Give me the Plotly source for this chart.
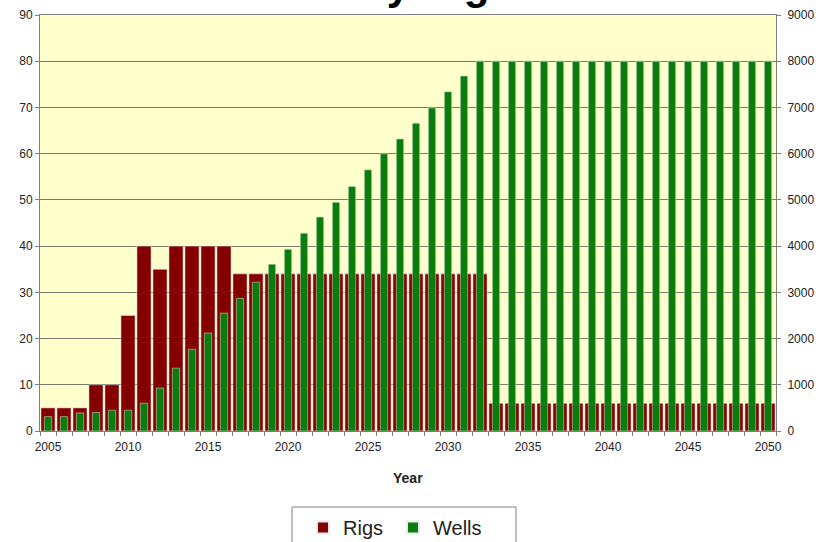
import plotly.graph_objects as go

years = list(range(2005, 2051))
rigs = [5, 5, 5, 10, 10, 25, 40, 35, 40, 40, 40, 40, 34, 34] + [34] * 14 + [6] * 18
wells = [310, 310, 390, 400, 450, 450, 600, 930, 1360, 1770, 2120, 2550, 2870, 3220,
         3610, 3930, 4280, 4630, 4950, 5290, 5650, 6000, 6320, 6660, 6990, 7340, 7680, 8000] + [8000] * 18
xticks = list(range(2005, 2051, 5))

FONT = "Liberation Sans, Arial, sans-serif"
H = 542
PT, PB, PL, PR = 15, 431, 40, 776
PH = PB - PT
PW = PR - PL

fig = go.Figure()
fig.add_trace(go.Bar(x=years, y=rigs, name="Rigs", marker_color="#850000",
                     width=0.88, yaxis="y"))
fig.add_trace(go.Bar(x=years, y=wells, name="Wells", marker_color="#0a7d0a",
                     width=0.46, yaxis="y2"))

fig.update_layout(
    width=829, height=H,
    margin=dict(l=PL, r=829 - PR, t=PT, b=H - PB, autoexpand=False),
    paper_bgcolor="white", plot_bgcolor="#FFFFCC",
    barmode="overlay",
    font=dict(family=FONT, color="#222222", size=12),
    showlegend=True,
    legend=dict(orientation="h", xref="container", yref="container",
                x=303 / 829, y=1 - 508 / H, xanchor="left", yanchor="top",
                borderwidth=0, bgcolor="rgba(0,0,0,0)",
                font=dict(size=20, color="#222222"), entrywidth=45,
                itemsizing="constant"),
    xaxis=dict(range=[2004.5, 2050.5], tickvals=xticks, ticks="", showgrid=False,
               showline=True, linecolor="#808080", linewidth=1, mirror=True,
               tickfont=dict(size=12), zeroline=False, ticklabelstandoff=5,
               minor=dict(tickvals=[y - 0.5 for y in years] + [2050.5], ticks="outside",
                          ticklen=4, tickcolor="#808080", showgrid=False)),
    yaxis=dict(range=[0, 90], dtick=10, showgrid=True, gridcolor="#7a7a6a", gridwidth=1,
               ticks="outside", ticklen=4, tickcolor="#808080", showline=True,
               linecolor="#808080", zeroline=False, tickfont=dict(size=12)),
    yaxis2=dict(range=[0, 9000], dtick=1000, overlaying="y", side="right", showgrid=False,
                ticks="outside", ticklen=4, tickcolor="#808080", showline=True,
                linecolor="#808080", zeroline=False, tickfont=dict(size=12),
                ticklabelstandoff=4),
    shapes=[
        dict(type="rect", xref="paper", yref="paper",
             x0=(292 - PL) / PW, x1=(516 - PL) / PW,
             y0=(PB - 560) / PH, y1=(PB - 507) / PH,
             line=dict(color="#808080", width=1), fillcolor="rgba(0,0,0,0)"),
    ],
    annotations=[
        dict(text="<b>Year</b>", xref="paper", yref="paper", x=0.5, y=(PB - 478) / PH,
             xanchor="center", yanchor="middle", showarrow=False,
             font=dict(size=14, color="#222222")),
        dict(text="<b>Modeled Yearly Rigs Schedule</b>", xref="paper", yref="paper",
             x=0.5, y=1 + (PT - 10) / PH, xanchor="center", yanchor="bottom",
             showarrow=False, font=dict(size=42, color="#000000")),
    ],
)

fig.write_html("out.html")
